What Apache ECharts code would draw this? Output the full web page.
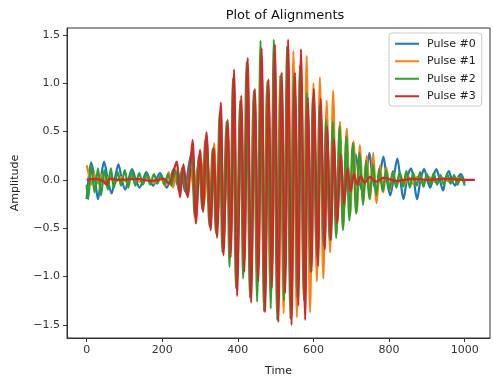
<!DOCTYPE html>
<html>
<head>
<meta charset="utf-8">
<script src="https://cdn.jsdelivr.net/npm/echarts@6/dist/echarts.min.js"></script>
<style>
html,body{margin:0;padding:0;background:#fff;}
#chart{width:493px;height:382px;}
</style>
</head>
<body>
<div id="chart"></div>
<script>
const seriesNames = ['Pulse #0', 'Pulse #1', 'Pulse #2', 'Pulse #3'];
const xTicks = [0, 200, 400, 600, 800, 1000];
const yTicks = [-1.5, -1.0, -0.5, 0.0, 0.5, 1.0, 1.5];

// [time, amplitude] pairs (peaks and troughs)
const pulse0 = [
[0,-0.20],[12,0.18],[22,0.0],[30,-0.20],[38,0.02],[46,0.19],[56,0.0],[66,-0.14],[75,0.02],[84,0.16],[93,0.0],[102,-0.10],[111,0.01],[120,0.11],[130,0.0],[140,-0.08],[150,0.01],[158,0.08],[167,0.0],[176,-0.06],[185,0.01],[194,0.07],[203,0.0],[212,-0.08],[222,0.02],[230,0.11],[240,-0.05],[250,0.08],[260,-0.12],[270,0.15],
[280,0.30],[289,-0.38],[300,0.25],[308,-0.28],
[317,0.42],[328,-0.44],[336,0.28],[345,-0.51],
[355,0.68],[362,-0.66],[373,0.52],[381,-0.64],
[390,0.97],[398,-1.02],[409,0.74],[417,-0.81],
[426,1.07],[435,-1.08],[445,0.80],[454,-0.89],
[463,1.15],[472,-1.16],[481,0.88],[490,-0.95],
[498,1.20],[507,-1.25],[516,0.94],[525,-0.99],
[533,1.22],[542,-1.27],[551,0.94],[560,-1.10],
[567,1.15],[578,-1.23],[585,0.72],[595,-0.81],
[601,0.80],[612,-0.76],[619,0.70],[630,-0.61],
[636,0.47],[646,-0.53],[654,0.36],[663,-0.38],
[672,0.30],[681,-0.30],[690,0.20],[698,-0.15],
[712,0.26],[721,0.0],[730,-0.12],[739,0.02],[748,0.28],[757,0.0],[766,-0.10],[775,0.03],[785,0.24],[794,0.0],[803,-0.16],[812,0.02],[822,0.22],[830,0.0],[838,-0.20],[848,0.02],[858,0.12],[866,-0.02],[874,-0.20],[884,0.02],[893,0.11],[901,0.0],[909,-0.08],[917,0.03],[925,0.11],[934,0.0],[943,-0.11],[950,0.02],[958,0.09],[966,0.0],[975,-0.06],[982,0.02],[990,0.06],[1000,-0.03]
];

const pulse1 = [
[0,0.15],[6,0.05],[12,-0.05],[20,0.06],[30,-0.04],[40,0.05],[50,-0.03],[60,0.04],[75,-0.03],[90,0.03],[105,-0.02],[120,0.03],[140,-0.02],[160,0.02],[180,-0.03],[195,0.03],[207,-0.06],[217,0.08],[228,-0.08],[238,0.06],[247,-0.08],[256,0.10],[266,-0.10],[275,0.12],[284,-0.14],[293,0.12],
[302,0.22],[311,-0.25],[320,0.18],[329,-0.20],
[337,0.38],[346,-0.40],[355,0.32],[364,-0.35],
[372,0.55],[381,-0.60],[390,0.50],[399,-0.55],
[407,0.75],[416,-0.80],[425,0.68],[434,-0.75],
[442,0.88],[451,-1.00],[460,0.85],[469,-0.95],
[477,0.98],[486,-1.15],[495,0.95],[504,-1.05],
[512,1.08],[521,-1.38],[530,1.05],[539,-1.15],
[547,1.33],[556,-1.42],[565,1.15],[574,-1.20],
[582,1.28],[591,-1.37],[600,1.00],[609,-1.05],
[617,1.06],[626,-1.02],[635,0.82],[644,-0.75],
[652,0.92],[661,-0.56],[670,0.60],[679,-0.48],
[688,0.53],[697,-0.37],[706,0.40],[715,-0.32],
[723,0.36],[732,-0.24],[741,0.25],[750,-0.20],
[758,0.28],[767,-0.24],[776,0.15],[785,-0.13],
[793,0.13],[802,-0.11],[811,0.08],[820,-0.07],
[830,0.05],[840,-0.05],[850,0.04],[862,-0.04],[875,0.03],[890,-0.03],[905,0.03],[920,-0.02],[940,0.02],[960,-0.02],[980,0.02],[1000,0.0]
];

const pulse2 = [
[0,-0.05],[4,-0.20],[12,0.15],[21,-0.13],[30,0.12],[38,-0.16],[47,0.10],[56,-0.10],[64,0.12],[72,-0.08],[82,0.08],[91,-0.06],[101,0.10],[110,-0.08],[119,0.09],[129,-0.06],[139,0.07],[149,-0.05],[159,0.07],[168,-0.05],[178,0.06],[187,-0.04],[197,0.05],[206,-0.05],[215,0.06],[224,-0.06],[235,0.10],[244,-0.12],[253,0.13],[264,-0.15],
[277,0.28],[286,-0.38],[297,0.25],[305,-0.30],
[314,0.42],[325,-0.48],[333,0.32],[342,-0.55],
[352,0.70],[359,-0.75],[370,0.60],[378,-0.90],
[387,1.05],[395,-1.12],[406,0.82],[414,-1.02],
[423,1.22],[432,-1.22],[442,0.92],[451,-1.26],
[460,1.44],[469,-1.36],[478,1.02],[487,-1.33],
[495,1.45],[504,-1.45],[513,1.08],[522,-1.25],
[530,1.38],[539,-1.44],[548,1.08],[557,-1.22],
[564,1.18],[575,-1.25],[582,0.90],[592,-0.95],
[598,0.85],[609,-0.80],[616,0.77],[627,-0.68],
[633,0.62],[643,-0.62],[651,0.60],[660,-0.60],
[669,0.55],[678,-0.52],[687,0.45],[695,-0.42],
[704,0.38],[713,-0.35],[722,0.28],[731,-0.26],
[739,0.20],[748,-0.20],[757,0.16],[766,-0.16],
[774,0.12],[783,-0.12],[792,0.10],[801,-0.10],
[810,0.09],[819,-0.08],[828,0.08],[837,-0.07],[846,0.09],[855,-0.08],[864,0.07],[873,-0.06],[882,0.08],[891,-0.07],[900,0.06],[909,-0.05],[918,0.07],[927,-0.05],[936,0.05],[945,-0.05],[954,0.06],[963,-0.04],[972,0.05],[981,-0.05],[990,0.04],[1000,-0.06]
];

const pulse3 = [
[0,0],[25,0.01],[45,-0.02],[52,-0.05],[60,0.01],[90,0],[130,0.01],[170,-0.01],[205,0.01],[218,-0.04],[228,0.06],
[238,0.19],[247,-0.18],[256,0.16],[267,-0.18],
[280,0.41],[289,-0.45],[300,0.31],[308,-0.33],
[317,0.49],[328,-0.52],[336,0.33],[345,-0.60],
[355,0.80],[362,-0.78],[373,0.62],[381,-0.80],
[390,1.14],[398,-1.20],[409,0.87],[417,-0.95],
[426,1.26],[435,-1.27],[445,0.94],[454,-1.05],
[463,1.36],[472,-1.37],[481,1.04],[490,-1.12],
[498,1.40],[507,-1.47],[516,1.11],[525,-1.17],
[533,1.45],[542,-1.50],[551,1.11],[560,-1.30],
[567,1.35],[578,-1.45],[585,0.85],[595,-0.95],
[601,0.94],[612,-0.89],[619,0.84],[630,-0.72],
[636,0.55],[646,-0.62],[654,0.42],[663,-0.45],
[672,0.26],[681,-0.25],[690,0.12],[698,-0.12],
[707,0.06],[716,-0.05],[725,0.04],[735,-0.03],[750,0.03],[765,-0.02],[785,0.02],[820,-0.01],[860,0.01],[900,0],[950,0.01],[1000,0],[1027,0]
];

const pulses = [pulse0, pulse1, pulse2, pulse3];
const colors = ['#1f77b4', '#ff7f0e', '#2ca02c', '#d62728'];

const fmtY = v => (v < 0 ? '\u2212' : '') + Math.abs(v).toFixed(1);
const fmtX = v => String(v);

const chart = echarts.init(document.getElementById('chart'), null, {renderer: 'canvas'});
chart.setOption({
  animation: false,
  backgroundColor: '#fff',
  title: {
    text: 'Plot of Alignments',
    left: 280, top: 4, textAlign: 'center',
    textStyle: {fontFamily: 'DejaVu Sans', fontSize: 13, fontWeight: 'normal', color: '#111'}
  },
  grid: {left: 67, right: 3, top: 28, bottom: 39, show: true, borderColor: '#333', borderWidth: 1, backgroundColor: 'transparent'},
  legend: {
    orient: 'vertical', left: 389, top: 33,
    data: seriesNames,
    icon: 'rect', itemWidth: 24, itemHeight: 2, itemGap: 4,
    padding: [4, 6, 3, 6],
    backgroundColor: 'rgba(255,255,255,0.85)', borderColor: '#ccc', borderWidth: 1, borderRadius: 3,
    textStyle: {fontFamily: 'DejaVu Sans', fontSize: 11, color: '#222', lineHeight: 13.5, padding: [0, 0, 0, 3]}
  },
  xAxis: {
    type: 'value', min: -52, max: 1067,
    name: 'Time', nameLocation: 'middle', nameGap: 28,
    nameTextStyle: {fontFamily: 'DejaVu Sans', fontSize: 11, color: '#222'},
    axisLine: {show: true, onZero: false, lineStyle: {color: '#333'}},
    axisTick: {show: true, length: 4, customValues: xTicks, lineStyle: {color: '#333'}},
    axisLabel: {customValues: xTicks, formatter: fmtX, margin: 7, fontFamily: 'DejaVu Sans', fontSize: 11, color: '#333'},
    splitLine: {show: false}
  },
  yAxis: {
    type: 'value', min: -1.635, max: 1.57,
    name: 'Amplitude', nameLocation: 'middle', nameGap: 46, nameRotate: 90,
    nameTextStyle: {fontFamily: 'DejaVu Sans', fontSize: 11, color: '#222'},
    axisLine: {show: true, onZero: false, lineStyle: {color: '#333'}},
    axisTick: {show: true, length: 4, customValues: yTicks, lineStyle: {color: '#333'}},
    axisLabel: {customValues: yTicks, margin: 7, formatter: fmtY, fontFamily: 'DejaVu Sans', fontSize: 11, color: '#333'},
    splitLine: {show: false}
  },
  series: pulses.map((d, i) => ({
    name: seriesNames[i],
    type: 'line',
    data: d,
    showSymbol: false,
    symbol: 'none',
    smooth: 0.3,
    clip: true,
    color: colors[i],
    lineStyle: {width: 2.2, color: colors[i]},
    z: 2 + i
  }))
});
</script>
</body>
</html>
